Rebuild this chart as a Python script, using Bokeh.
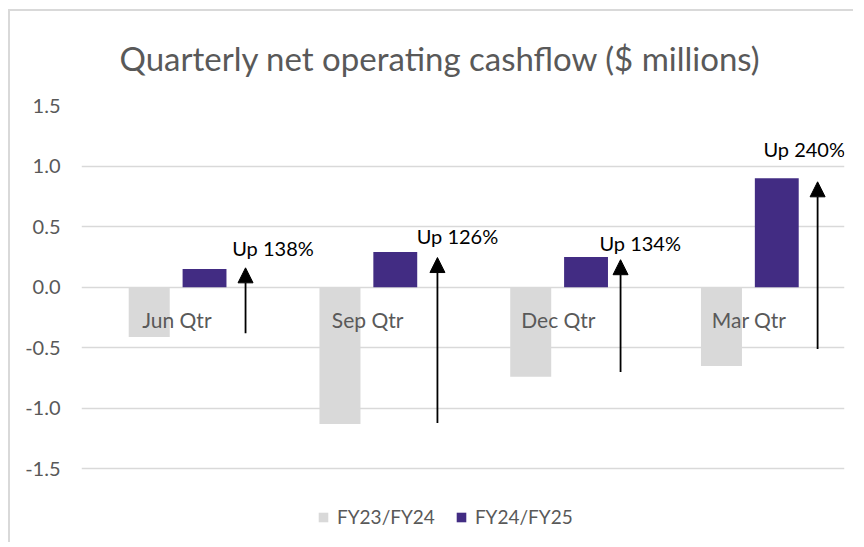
from bokeh.plotting import figure
from bokeh.models import (FactorRange, FixedTicker, PrintfTickFormatter, Legend, LegendItem,
                          Arrow, NormalHead, ColumnDataSource)
from bokeh.transform import dodge
from bokeh.core.properties import value
from bokeh.embed import file_html
from bokeh.resources import INLINE

# ---- data ----
categories = ["Jun Qtr", "Sep Qtr", "Dec Qtr", "Mar Qtr"]
fy23_24 = [-0.41, -1.13, -0.74, -0.65]
fy24_25 = [0.15, 0.29, 0.25, 0.90]
series_names = ["FY23/FY24", "FY24/FY25"]
y_ticks = [-1.5, -1.0, -0.5, 0.0, 0.5, 1.0, 1.5]
chart_title = "Quarterly net operating cashflow ($ millions)"

# growth annotations
growth_labels = ["Up 138%", "Up 126%", "Up 134%", "Up 240%"]
arrow_from = [-0.38, -1.12, -0.70, -0.51]
arrow_to = [0.16, 0.245, 0.227, 0.87]
label_y = [0.32, 0.425, 0.363, 1.138]
arrow_dx = [0.36, 0.366, 0.326, 0.359]
label_dx = [0.29, 0.257, 0.215, 0.075]

FONT = "Lato"
GRAY_TXT = "#595959"
C_OLD = "#d9d9d9"
C_NEW = "#422c83"

# y range extends below -1.5 to leave room for the legend inside the frame
p = figure(x_range=FactorRange(*categories), y_range=(-2.0, 1.5),
           width=845, height=533, output_backend="svg", toolbar_location=None,
           min_border_left=71, min_border_right=11, min_border_top=93, min_border_bottom=15)
p.styles = {"border-top": "2px solid #d9d9d9", "border-left": "2px solid #d9d9d9",
            "margin-left": "8px", "margin-top": "9px"}

p.title.text = chart_title
p.title.text_font = FONT
p.title.text_font_size = "33px"
p.title.text_font_style = "normal"
p.title.text_color = GRAY_TXT
p.title.align = "left"
p.title.vertical_align = "top"
p.title.offset = 38
p.title.standoff = 52

p.outline_line_color = None
p.xaxis.visible = False
p.xgrid.grid_line_color = None
p.ygrid.grid_line_color = "#d9d9d9"
p.ygrid.grid_line_width = 1.5
p.yaxis.ticker = FixedTicker(ticks=y_ticks)
p.yaxis.formatter = PrintfTickFormatter(format="%.1f")
p.yaxis.axis_line_color = None
p.yaxis.major_tick_line_color = None
p.yaxis.minor_tick_line_color = None
p.yaxis.major_tick_out = 0
p.yaxis.major_tick_in = 0
p.yaxis.major_label_standoff = 21
p.yaxis.major_label_text_font = FONT
p.yaxis.major_label_text_font_size = "20px"
p.yaxis.major_label_text_color = GRAY_TXT

src = ColumnDataSource(dict(cat=categories, old=fy23_24, new=fy24_25))
r_old = p.vbar(x=dodge("cat", -0.145, range=p.x_range), top="old", bottom=0, width=0.215,
               source=src, fill_color=C_OLD, line_color=None)
r_new = p.vbar(x=dodge("cat", 0.145, range=p.x_range), top="new", bottom=0, width=0.23,
               source=src, fill_color=C_NEW, line_color=None)

# category labels at the zero line
p.text(x="cat", y=0, text="cat", source=src, text_font=value(FONT), text_font_size="21px",
       text_color=GRAY_TXT, text_align="center", text_baseline="middle", y_offset=32)

# arrows and growth labels
ax = [i + 0.5 + d for i, d in enumerate(arrow_dx)]
lx = [i + 0.5 + d for i, d in enumerate(label_dx)]
asrc = ColumnDataSource(dict(x=ax, y0=arrow_from, y1=arrow_to))
p.add_layout(Arrow(end=NormalHead(size=15, fill_color="black", line_color="black", line_width=1),
                   x_start="x", y_start="y0", x_end="x", y_end="y1", source=asrc,
                   line_color="black", line_width=1.8))
lsrc = ColumnDataSource(dict(x=lx, y=label_y, t=growth_labels))
p.text(x="x", y="y", text="t", source=lsrc, text_font=value(FONT), text_font_size="20px",
       text_color="black", text_align="left", text_baseline="middle")

legend = Legend(items=[LegendItem(label=series_names[0], renderers=[r_old]),
                       LegendItem(label=series_names[1], renderers=[r_new])],
                orientation="horizontal", location=(236, 1))
legend.label_text_font = FONT
legend.label_text_font_size = "19px"
legend.label_text_color = GRAY_TXT
legend.glyph_width = 12
legend.glyph_height = 12
legend.label_standoff = 8
legend.spacing = 20
legend.padding = 0
legend.margin = 0
legend.border_line_color = None
legend.background_fill_alpha = 0
p.add_layout(legend, "center")

open("out.html", "w").write(file_html(p, INLINE))
